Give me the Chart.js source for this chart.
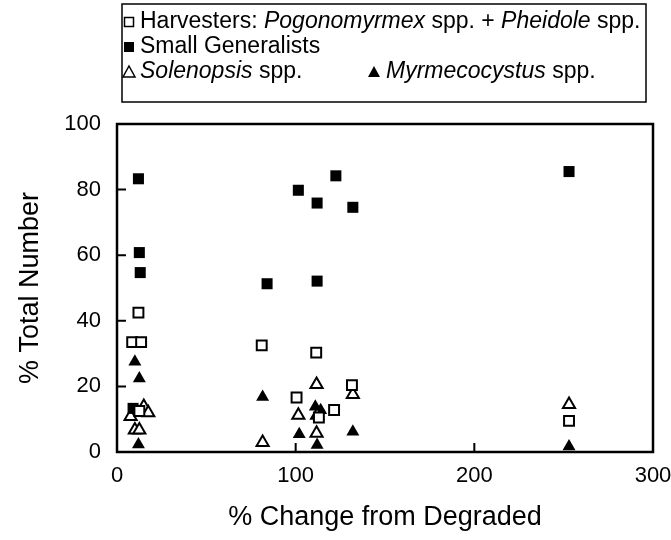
<!DOCTYPE html>
<html>
<head>
<meta charset="utf-8">
<script src="https://cdn.jsdelivr.net/npm/chart.js@4/dist/chart.umd.min.js"></script>
<style>
  body { margin: 0; background: #fff; }
  canvas { display: block; }
</style>
</head>
<body>
<canvas id="antChart" width="671" height="540"></canvas>
<script>
// values: x = % change from degraded, y = % total number
const harvX = [8.5, 13.5, 12, 12.5, 81, 100.5, 111.5, 113, 121.5, 131.5, 253];
const harvY = [33.5, 33.5, 42.5, 12.5, 32.5, 16.6, 30.3, 10.5, 12.8, 20.4, 9.5];

const genX = [12, 12.5, 13, 9, 84, 101.5, 112, 112, 122.5, 132, 253];
const genY = [83.3, 60.8, 54.7, 13.3, 51.3, 79.8, 75.9, 52.1, 84.2, 74.6, 85.5];

const solX = [7.6, 15, 17.5, 10, 12.5, 81.5, 101.5, 112, 111.7, 111.7, 132, 253];
const solY = [10.8, 13.9, 12, 6.7, 6.7, 2.9, 11.2, 11.2, 20.6, 5.7, 17.5, 14.5];

const mymX = [10, 12.5, 12, 81.5, 102, 111, 114, 112, 132, 253];
const mymY = [27.5, 22.4, 2.3, 16.8, 5.4, 13.8, 12.7, 2.1, 6.2, 1.7];

const xTicks = [0, 100, 200, 300];
const yTicks = [0, 20, 40, 60, 80, 100];

const xTitle = '% Change from Degraded';
const yTitle = '% Total Number';

function pts(xs, ys) {
  return xs.map((x, i) => ({ x: x, y: ys[i] }));
}

const FONT = '"Liberation Sans", Arial, Helvetica, sans-serif';

// frame + inward tick marks
const framePlugin = {
  id: 'frame',
  afterDraw(chart) {
    const ctx = chart.ctx;
    const a = chart.chartArea;
    const xs = chart.scales.x, ys = chart.scales.y;
    ctx.save();
    ctx.strokeStyle = '#000';
    ctx.lineWidth = 2.5;
    ctx.strokeRect(a.left, a.top, a.right - a.left, a.bottom - a.top);
    ctx.lineWidth = 2;
    ctx.beginPath();
    yTicks.slice(1, -1).forEach(v => {
      const y = ys.getPixelForValue(v);
      ctx.moveTo(a.left, y);
      ctx.lineTo(a.left + 9, y);
    });
    xTicks.slice(1, -1).forEach(v => {
      const x = xs.getPixelForValue(v);
      ctx.moveTo(x, a.bottom);
      ctx.lineTo(x, a.bottom - 9);
    });
    ctx.stroke();
    ctx.restore();
  }
};

// legend box with mixed roman / italic text
const legendPlugin = {
  id: 'mixedLegend',
  afterDraw(chart) {
    const ctx = chart.ctx;
    ctx.save();
    ctx.strokeStyle = '#000';
    ctx.fillStyle = '#000';
    ctx.lineWidth = 1.5;
    ctx.strokeRect(122, 4, 524, 98);

    function runs(x, y, parts) {
      parts.forEach(p => {
        ctx.font = (p[1] ? 'italic ' : '') + '23px ' + FONT;
        ctx.textBaseline = 'middle';
        ctx.fillText(p[0], x, y);
        x += ctx.measureText(p[0]).width;
      });
    }
    function square(x, y, filled) {
      if (filled) ctx.fillRect(x - 5, y - 5, 10, 10);
      else { ctx.lineWidth = 1.5; ctx.strokeRect(x - 4.5, y - 4.5, 9, 9); }
    }
    function tri(x, y, filled) {
      ctx.beginPath();
      ctx.moveTo(x, y - 6);
      ctx.lineTo(x + 6, y + 5);
      ctx.lineTo(x - 6, y + 5);
      ctx.closePath();
      if (filled) ctx.fill();
      else { ctx.lineWidth = 1.5; ctx.stroke(); }
    }

    square(129, 22, false);
    runs(140, 22, [['Harvesters: ', false], ['Pogonomyrmex', true], [' spp. + ', false], ['Pheidole', true], [' spp.', false]]);
    square(129, 47, true);
    runs(140, 47, [['Small Generalists', false]]);
    tri(129, 72, false);
    runs(140, 72, [['Solenopsis', true], [' spp.', false]]);
    tri(374, 72, true);
    runs(386, 72, [['Myrmecocystus', true], [' spp.', false]]);
    ctx.restore();
  }
};

const ctx = document.getElementById('antChart').getContext('2d');
const antChart = new Chart(ctx, {
  type: 'scatter',
  data: {
    datasets: [
      {
        label: 'Harvesters: Pogonomyrmex spp. + Pheidole spp.',
        data: pts(harvX, harvY),
        pointStyle: 'rect',
        pointRadius: 7,
        backgroundColor: '#fff',
        borderColor: '#000',
        borderWidth: 2,
        clip: false
      },
      {
        label: 'Small Generalists',
        data: pts(genX, genY),
        pointStyle: 'rect',
        pointRadius: 7.8,
        backgroundColor: '#000',
        borderColor: '#000',
        borderWidth: 0,
        clip: false
      },
      {
        label: 'Solenopsis spp.',
        data: pts(solX, solY),
        pointStyle: 'triangle',
        pointRadius: 7,
        backgroundColor: '#fff',
        borderColor: '#000',
        borderWidth: 2,
        clip: false
      },
      {
        label: 'Myrmecocystus spp.',
        data: pts(mymX, mymY),
        pointStyle: 'triangle',
        pointRadius: 7.5,
        backgroundColor: '#000',
        borderColor: '#000',
        borderWidth: 0,
        clip: false
      }
    ]
  },
  options: {
    responsive: false,
    animation: false,
    devicePixelRatio: 1,
    layout: { padding: { top: 124, right: 18, left: 0, bottom: 0 } },
    plugins: {
      legend: { display: false },
      tooltip: { enabled: false }
    },
    scales: {
      x: {
        type: 'linear',
        min: 0,
        max: 300,
        afterBuildTicks: s => { s.ticks = xTicks.map(v => ({ value: v })); },
        afterFit: s => { s.height = 88; s.paddingLeft = 0; s.paddingRight = 0; },
        grid: { display: false, drawTicks: false, tickLength: 0 },
        border: { display: false },
        ticks: { color: '#000', padding: 11, font: { family: FONT, size: 22 } },
        title: { display: true, text: xTitle, color: '#000', padding: { top: 0, bottom: 6 }, font: { family: FONT, size: 27 } }
      },
      y: {
        type: 'linear',
        min: 0,
        max: 100,
        afterBuildTicks: s => { s.ticks = yTicks.map(v => ({ value: v })); },
        afterFit: s => { s.width = 117; s.paddingTop = 0; s.paddingBottom = 0; },
        grid: { display: false, drawTicks: false, tickLength: 0 },
        border: { display: false },
        ticks: { color: '#000', padding: 16, font: { family: FONT, size: 22 } },
        title: { display: true, text: yTitle, color: '#000', padding: { top: 14, bottom: 0 }, font: { family: FONT, size: 27 } }
      }
    }
  },
  plugins: [framePlugin, legendPlugin]
});
</script>
</body>
</html>
